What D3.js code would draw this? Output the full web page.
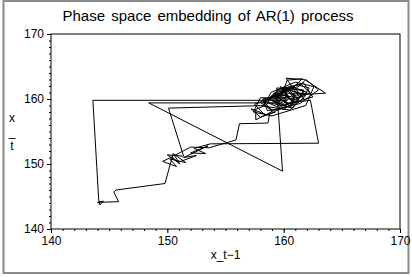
<!DOCTYPE html>
<html>
<head>
<meta charset="utf-8">
<script src="https://cdn.jsdelivr.net/npm/d3@7"></script>
<style>
  body { margin: 0; background: #fff; }
  text { font-family: "Liberation Sans", Arial, sans-serif; fill: #000; }
</style>
</head>
<body>
<script>
const w = 412;
const h = 277;

const title = "Phase space embedding of AR(1) process";
const xLabel = "x_t\u22121";
const yLabelChars = ["x", "_", "t"];
const xTicks = [140, 150, 160, 170];
const yTicks = [140, 150, 160, 170];

// lagged value x_(t-1)
const lagX = [
  160.5, 160.2, 161.0, 160.6, 159.3, 160.0, 161.8, 161.2, 160.1, 159.0, 159.7, 160.6, 162.0, 161.0, 159.9, 160.3,
  143.6,
  144.1, 144.2, 144.5, 144.0, 145.8, 145.4, 145.6,
  149.8, 150.5, 151.6, 150.2, 150.8, 149.6, 150.4, 151.1, 150.0, 151.4,
  150.1,
  158.5, 159.0, 160.5, 161.3, 160.0, 158.4, 159.6, 161.5, 162.3, 160.8, 160.9, 159.2, 158.1, 159.3, 160.7, 161.6, 160.3, 159.6,
  148.4, 159.9,
  159.4, 161.7, 161.4, 160.2, 161.8, 163.6, 161.0, 160.6, 158.7, 160.0, 160.9, 162.3, 163.0,
  153.7, 152.3, 153.3, 152.0, 153.5, 152.6, 151.4, 152.5, 151.0, 150.6, 152.0, 153.6,
  155.9, 156.2, 158.65, 158.8,
  159.3, 158.0, 157.2, 158.5, 157.6, 157.6, 158.4, 159.0, 158.2, 159.8, 160.4, 159.1, 160.8, 160.3, 161.4, 159.6,
  158.9, 160.1, 161.1, 162.2, 161.7, 160.4, 160.0, 159.3, 159.9, 158.6, 158.2, 160.0, 160.7,
  159.7, 161.9, 160.5, 158.3, 158.9, 161.0, 162.6, 161.9, 159.0, 157.4, 158.0, 160.2, 160.1, 161.6, 160.8, 158.6,
  159.5, 161.3, 161.9, 163.0, 161.4, 159.3, 158.4, 157.5, 159.2, 160.4, 161.7, 162.5, 160.3, 159.2, 160.9, 161.8
];

// current value x_t
const curX = [
  160.2, 161.0, 160.6, 159.3, 160.0, 161.8, 161.2, 160.1, 159.0, 159.7, 160.6, 162.0, 161.0, 159.9, 160.3, 159.8,
  159.8,
  144.5, 143.7, 144.3, 144.1, 144.2, 145.7, 146.0,
  147.0, 151.6, 150.2, 150.8, 149.6, 150.4, 151.1, 150.0, 151.4, 151.2,
  158.6,
  159.0, 160.5, 161.3, 160.0, 158.4, 159.6, 161.5, 162.3, 160.8, 160.9, 159.2, 158.1, 159.3, 160.7, 161.6, 163.1, 162.9, 159.4,
  159.4, 148.9,
  161.7, 161.4, 160.2, 163.2, 163.0, 160.9, 160.6, 158.7, 160.0, 160.9, 159.5, 159.8, 153.2,
  153.1, 152.4, 151.6, 151.7, 152.8, 152.0, 151.0, 151.3, 150.3, 151.3, 152.6, 152.5,
  153.7, 156.2, 156.3, 157.8,
  158.0, 157.2, 158.5, 157.6, 156.8, 158.4, 159.0, 158.2, 159.8, 160.4, 159.1, 160.8, 160.3, 161.4, 159.6, 158.9,
  160.1, 161.1, 162.2, 161.7, 160.4, 160.0, 159.3, 159.9, 158.6, 158.2, 160.0, 160.7, 159.7,
  161.9, 160.5, 158.3, 158.9, 161.0, 162.6, 161.9, 159.0, 157.4, 158.0, 160.2, 160.1, 161.6, 160.8, 158.6, 159.5,
  161.3, 161.9, 163.0, 161.4, 159.3, 158.4, 157.5, 159.2, 160.4, 161.7, 162.5, 160.3, 159.2, 160.9, 161.8, 159.9
];

const svg = d3.select("body")
  .append("svg")
  .attr("width", w)
  .attr("height", h);

// outer grey frame
svg.append("rect")
  .attr("x", 3.5)
  .attr("y", 1)
  .attr("width", 405)
  .attr("height", 272)
  .attr("fill", "none")
  .attr("stroke", "#8a8a8a")
  .attr("stroke-width", 2);

const pLeft = 51, pRight = 400, pTop = 34, pBottom = 229;

const x = d3.scaleLinear().domain([140, 170]).range([pLeft, pRight]);
const y = d3.scaleLinear().domain([140, 170]).range([pBottom, pTop]);

svg.append("text")
  .attr("x", 208)
  .attr("y", 21)
  .attr("text-anchor", "middle")
  .attr("font-size", 15)
  .style("word-spacing", "2px")
  .text(title);

// minor ticks every unit
const minor = d3.range(140, 171, 1);

const xAxis = svg.append("g")
  .attr("transform", "translate(0," + pBottom + ")")
  .call(d3.axisBottom(x).tickValues(minor).tickSize(2).tickFormat(""));
xAxis.select(".domain").remove();

svg.append("g")
  .attr("transform", "translate(0," + pBottom + ")")
  .call(d3.axisBottom(x).tickValues(xTicks).tickSize(4).tickPadding(3).tickFormat(d3.format("d")))
  .call(g => g.select(".domain").remove())
  .selectAll("text")
  .attr("font-size", 12);

const yAxis = svg.append("g")
  .attr("transform", "translate(" + pLeft + ",0)")
  .call(d3.axisLeft(y).tickValues(minor).tickSize(2).tickFormat(""));
yAxis.select(".domain").remove();

svg.append("g")
  .attr("transform", "translate(" + pLeft + ",0)")
  .call(d3.axisLeft(y).tickValues(yTicks).tickSize(4).tickPadding(3).tickFormat(d3.format("d")))
  .call(g => g.select(".domain").remove())
  .selectAll("text")
  .attr("font-size", 12);

svg.selectAll(".tick line").attr("stroke", "#000");

// plot frame
svg.append("rect")
  .attr("x", pLeft)
  .attr("y", pTop)
  .attr("width", pRight - pLeft)
  .attr("height", pBottom - pTop)
  .attr("fill", "none")
  .attr("stroke", "#000")
  .attr("stroke-width", 1);

svg.append("text")
  .attr("x", (pLeft + pRight) / 2)
  .attr("y", 259)
  .attr("text-anchor", "middle")
  .attr("font-size", 12)
  .text(xLabel);

svg.selectAll(".ylab")
  .data(yLabelChars)
  .enter()
  .append("text")
  .attr("class", "ylab")
  .attr("x", 12)
  .attr("y", (d, i) => [122, 136, 150][i])
  .attr("text-anchor", "middle")
  .attr("font-size", 12)
  .text(d => d);

const pts = lagX.map((v, i) => [v, curX[i]]);

svg.append("path")
  .datum(pts)
  .attr("fill", "none")
  .attr("stroke", "#000")
  .attr("stroke-width", 1)
  .attr("d", d3.line().x(d => x(d[0])).y(d => y(d[1])));
</script>
</body>
</html>
